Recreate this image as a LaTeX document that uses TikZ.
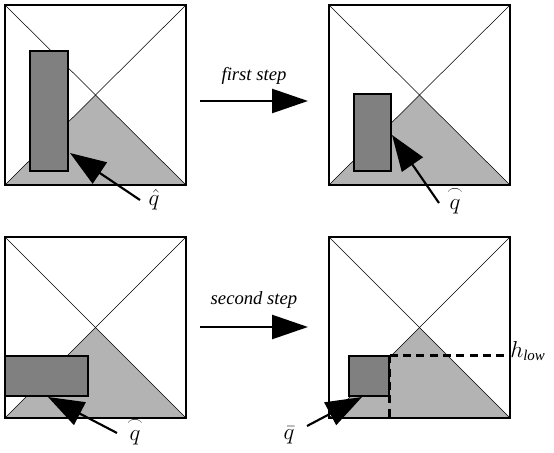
\documentclass[tikz,border=0pt]{standalone}
\usepackage{amsmath}
\usepackage{fontspec}
\setmainfont{Liberation Serif}
\usetikzlibrary{arrows.meta,fit}
\definecolor{trigray}{HTML}{B3B3B3}
\definecolor{blockgray}{HTML}{808080}
\newcommand{\arcq}{\overset{\frown}{q}}
\begin{document}
\begin{tikzpicture}[x=0.75pt,y=-0.75pt,
  block/.style={draw,fill=blockgray,line width=1.2pt,inner sep=0pt},
  diag/.style={line width=0.4pt},
  tri/.style={fill=trigray},
  bigarrow/.style={line width=1.9pt,-{Triangle[length=27pt,width=18pt]}},
  ptr/.style={line width=1.6pt,-{Triangle[length=27pt,width=19pt]}},
  lab/.style={font=\fontsize{17}{19}\selectfont,inner sep=1pt},
  steplab/.style={font=\fontsize{14}{16}\selectfont\itshape,inner sep=1pt},
  lim/.style={line width=2.2pt,dash pattern=on 6pt off 4pt}]
\useasboundingbox (0,0) rectangle (554,453);
\node[inner sep=0pt,fit={(5,5)(186,185)}] (sq1) {};
\node[inner sep=0pt,fit={(329,5)(510,185)}] (sq2) {};
\node[inner sep=0pt,fit={(5,237)(186,418)}] (sq3) {};
\node[inner sep=0pt,fit={(329,237)(510,418)}] (sq4) {};
\foreach \s in {sq1,sq2,sq3,sq4}{
  \fill[tri] (\s.south west) -- (\s.center) -- (\s.south east) -- cycle;
  \draw[diag] (\s.north west) -- (\s.south east);
  \draw[diag] (\s.north east) -- (\s.south west);
  \draw[line width=1.2pt] (\s.south west) rectangle (\s.north east);
}
% blocks
\node[block,fit={(30,51)(68,171)}] (r1) {};
\node[block,fit={(354,94)(391,171)}] (r2) {};
\node[block,fit={(5,356)(88,396)}] (r3) {};
\node[block,fit={(349,356)(389,396)}] (r4) {};
% step arrows
\coordinate (s1a) at (200,101);
\coordinate (s1b) at (308,101);
\draw[bigarrow] (s1a) -- (s1b);
\node[steplab] (l1) at (254,76) {first step};
\coordinate (s2a) at (200,327);
\coordinate (s2b) at (308,327);
\draw[bigarrow] (s2a) -- (s2b);
\node[steplab] (l2) at (254,300) {second step};
% h_low limits
\coordinate (hr) at (sq4.east |- r4.north east);
\coordinate (hb) at (r4.north east |- sq4.south);
\draw[lim] (r4.north east) -- (hr);
\draw[lim] (r4.north east) -- (hb);
\node[font=\fontsize{16}{18}\selectfont,inner sep=0pt,anchor=west] (hl) at (510,351) {$h_{\mathit{low}}$};
% pointer labels
\node[lab] (q1) at (154,200) {$\hat{q}$};
\node[lab] (q2) at (455,200) {$\arcq$};
\node[lab] (q3) at (135,431) {$\arcq$};
\node[lab] (q4) at (289,435) {$\bar{q}$};
\coordinate (t1) at (140,200);
\coordinate (h1) at (70,153);
\coordinate (t2) at (439,203);
\coordinate (h2) at (392,135);
\coordinate (t3) at (117,433);
\coordinate (h3) at (48,397);
\coordinate (t4) at (307,426);
\coordinate (h4) at (362,397);
\draw[ptr] (t1) -- (h1);
\draw[ptr] (t2) -- (h2);
\draw[ptr] (t3) -- (h3);
\draw[ptr] (t4) -- (h4);
\end{tikzpicture}
\end{document}
